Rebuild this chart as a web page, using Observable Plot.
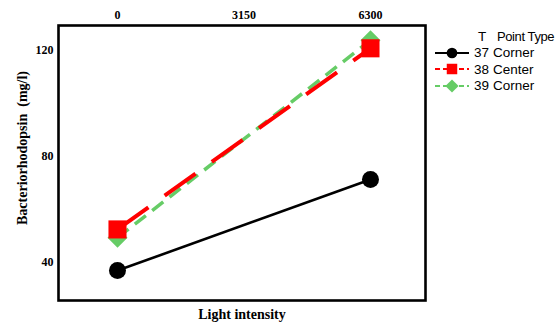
<!DOCTYPE html>
<html>
<head>
<meta charset="utf-8">
<script src="https://cdn.jsdelivr.net/npm/d3@7"></script>
<script src="https://cdn.jsdelivr.net/npm/@observablehq/plot@0.6"></script>
<style>
  html, body { margin: 0; padding: 0; background: #fff; }
  #wrap { position: relative; width: 557px; height: 326px; }
  #legend { position: absolute; left: 432px; top: 28px; font-family: "Liberation Sans", sans-serif; font-size: 13.5px; color: #000; }
  #legend .row { display: flex; align-items: center; height: 16.5px; white-space: nowrap; }
  #legend .sw { width: 42px; height: 16px; flex: none; }
  #legend .t { width: 19px; flex: none; }
  #legend .head { font-size: 13px; letter-spacing: -0.4px; }
</style>
</head>
<body>
<div id="wrap"><div id="legend"></div></div>
<script>
// Light intensity levels (x) and bacteriorhodopsin response per T level
const lightLevels = [0, 6300];
const tLevels = [37, 38, 39];
const pointTypes = ["Corner", "Center", "Corner"];
const bacterio37 = [37.0, 71.3];
const bacterio38 = [52.5, 120.8];
const bacterio39 = [49.4, 123.8];
const xTicks = [0, 3150, 6300];
const yTicks = [40, 80, 120];

const seriesValues = [bacterio37, bacterio38, bacterio39];
const styles = [
  {color: "#000000", symbol: "circle", r: 8.5, width: 2.6, dash: null},
  {color: "#ff0000", symbol: "square", r: 10.2, width: 4, dash: "38,20"},
  {color: "#66cc66", symbol: "diamond2", r: 9, width: 3.5, dash: "14,8"}
];

const series = tLevels.map((t, i) => ({
  t,
  type: pointTypes[i],
  style: styles[i],
  rows: lightLevels.map((x, j) => ({light: x, value: seriesValues[i][j], t}))
}));

// Draw order: 39 first, then 38 over it, then 37
const drawOrder = [series[2], series[1], series[0]];
const marks = [];
for (const s of drawOrder) {
  marks.push(Plot.line(s.rows, {
    x: "light", y: "value", stroke: s.style.color, strokeWidth: s.style.width,
    strokeDasharray: s.style.dash ?? undefined, strokeLinecap: "butt"
  }));
  marks.push(Plot.dot(s.rows, {
    x: "light", y: "value", symbol: () => s.style.symbol, r: s.style.r,
    fill: s.style.color, stroke: "none"
  }));
}

const chart = Plot.plot({
  width: 557,
  height: 326,
  marginLeft: 58,
  marginRight: 132,
  marginTop: 25,
  marginBottom: 26,
  style: {fontFamily: "Liberation Serif", fontWeight: "bold", fontSize: "12px", color: "#000", background: "#fff"},
  x: {domain: [-1469, 7670]},
  y: {domain: [25.7, 129.4]},
  marks: [
    Plot.axisX({anchor: "top", ticks: xTicks, tickSize: 0, tickPadding: 7, label: null, tickFormat: d => String(d)}),
    Plot.axisY({anchor: "left", ticks: yTicks, tickSize: 0, tickPadding: 5, label: null}),
    ...marks,
    Plot.frame({stroke: "#000", strokeWidth: 2.6}),
    Plot.text(["Light intensity"], {frameAnchor: "bottom", dy: 18, fontSize: 14, fontWeight: "bold"}),
    Plot.text(["Bacteriorhodopsin  (mg/l)"], {frameAnchor: "left", textAnchor: "middle", rotate: -90, dx: -36, dy: -15, fontSize: 14, fontWeight: "bold"})
  ]
});
document.getElementById("wrap").prepend(chart);

// Legend: T level and point type, with a line+marker swatch per series
const legend = d3.select("#legend");
const head = legend.append("div").attr("class", "row");
head.append("div").attr("class", "sw");
head.append("div").attr("class", "t").style("padding-left", "4px").text("T");
head.append("div").attr("class", "head").text("Point Type");
const symbolOf = {circle: d3.symbolCircle, square: d3.symbolSquare, diamond2: d3.symbolDiamond2};
for (const s of series) {
  const row = legend.append("div").attr("class", "row");
  const svg = row.append("svg").attr("class", "sw").attr("width", 42).attr("height", 16);
  svg.append("line").attr("x1", 3).attr("x2", 37).attr("y1", 8).attr("y2", 8)
    .attr("stroke", s.style.color).attr("stroke-width", 2)
    .attr("stroke-dasharray", s.style.dash ? "5,3" : null);
  svg.append("path").attr("transform", "translate(20,8)")
    .attr("d", d3.symbol(symbolOf[s.style.symbol], s.style.symbol === "circle" ? 90 : 110)())
    .attr("fill", s.style.color);
  row.append("div").attr("class", "t").text(s.t);
  row.append("div").text(s.type);
}
</script>
</body>
</html>
